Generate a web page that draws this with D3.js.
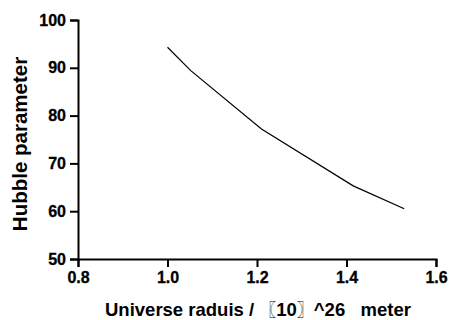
<!DOCTYPE html>
<html>
<head>
<meta charset="utf-8">
<script src="https://cdn.jsdelivr.net/npm/d3@7"></script>
<style>
  body { margin: 0; background: #fff; }
  text { font-family: "Liberation Sans", Arial, sans-serif; font-weight: bold; }
</style>
</head>
<body>
<svg id="chart" width="450" height="320"></svg>
<script>
// radius (x 10^26 m) and Hubble parameter
const radius = [1.0, 1.052, 1.21, 1.415, 1.529]
const hubble = [94.3, 89.4, 77.2, 65.3, 60.5]
const xTicks = [0.8, 1.0, 1.2, 1.4, 1.6]
const yTicks = [50, 60, 70, 80, 90, 100]

const svg = d3.select("#chart")
const margin = {top: 20, right: 14, bottom: 61, left: 78}
const width = 450 - margin.left - margin.right
const height = 320 - margin.top - margin.bottom

const g = svg.append("g")
    .attr("transform", "translate(" + margin.left + "," + margin.top + ")")

const x = d3.scaleLinear().domain([0.8, 1.6]).range([0, width])
const y = d3.scaleLinear().domain([50, 100]).range([height, 0])

//x axis
const xa = g.append("g")
    .attr("transform", "translate(0," + height + ")")
    .call(d3.axisBottom(x).tickValues(xTicks).tickFormat(d3.format(".1f"))
        .tickSizeOuter(0).tickSize(8).tickPadding(5))

//y axis
const ya = g.append("g")
    .call(d3.axisLeft(y).tickValues(yTicks).tickSizeOuter(0).tickSize(8).tickPadding(4))

for (const a of [xa, ya]) {
    a.attr("font-family", null).attr("font-size", null)
    a.select(".domain").attr("stroke", "#000").attr("stroke-width", 2)
    a.selectAll(".tick line").attr("stroke", "#000").attr("stroke-width", 2)
    a.selectAll("text")
        .attr("fill", "#000")
        .attr("stroke", "#000")
        .attr("stroke-width", 0.3)
        .style("font-family", "'Liberation Sans', Arial, sans-serif")
        .style("font-weight", "bold")
        .style("font-size", "16px")
}

//the curve
const data = radius.map((r, i) => ({r: r, h: hubble[i]}))
g.append("path")
    .datum(data)
    .attr("fill", "none")
    .attr("stroke", "#000")
    .attr("stroke-width", 1.2)
    .attr("d", d3.line().x(d => x(d.r)).y(d => y(d.h)))

//axis titles
const xt = svg.append("text")
    .attr("x", 105)
    .attr("y", 316)
    .style("font-size", "18.5px")
    .style("white-space", "pre")
    .attr("xml:space", "preserve")
xt.append("tspan").text("Universe raduis / ")
xt.append("tspan").style("font-family", "'Noto Sans CJK JP'").style("font-weight", "normal")
    .style("font-size", "17px").text("\u3016")
xt.append("tspan").text("10")
xt.append("tspan").style("font-family", "'Noto Sans CJK JP'").style("font-weight", "normal")
    .style("font-size", "17px").text("\u3017")
xt.append("tspan").text("^26   meter")

svg.append("text")
    .attr("transform", "translate(26.5,144) rotate(-90)")
    .attr("text-anchor", "middle")
    .style("font-size", "20.5px")
    .text("Hubble parameter")
</script>
</body>
</html>
